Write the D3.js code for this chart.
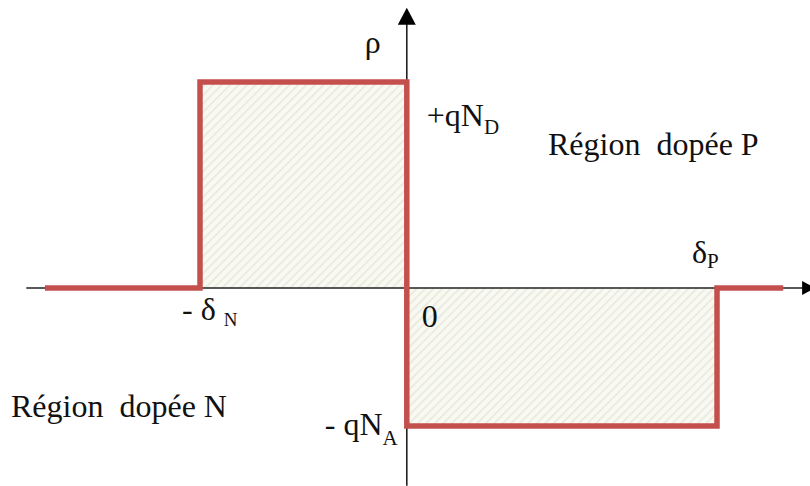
<!DOCTYPE html>
<html>
<head>
<meta charset="utf-8">
<script src="https://cdn.jsdelivr.net/npm/d3@7/dist/d3.min.js"></script>
<style>
  html, body { margin: 0; padding: 0; background: #fff; }
  #wrap { position: relative; width: 810px; height: 486px; }
  #wrap svg { position: absolute; left: 0; top: 0; }
  .lbl {
    position: absolute;
    font-family: "Liberation Serif", "Times New Roman", Tinos, serif;
    line-height: normal;
    color: #111;
    white-space: pre;
  }
  .lbl span { position: relative; }
</style>
</head>
<body>
<div id="wrap">
  <svg id="chart" width="810" height="486"></svg>
</div>
<script>
// Charge density ρ(x) across an abrupt P-N junction (depletion approximation).
// Positions in units of δN; density in units of qN_D.
const deltaN = 1.0;          // depletion width on the N side
const deltaP = 1.5;          // depletion width on the P side
const rhoDonor = 1.0;        // +qN_D
const rhoAcceptor = -0.67;   // -qN_A  (neutrality: N_D·δN = N_A·δP)

// Breakpoints of the step profile and the density after each one
const profileX = [-1.75, -deltaN, 0, deltaP, 1.82];
const profileRho = [0, rhoDonor, rhoAcceptor, 0, 0];

// Extent of the drawn axes
const xAxisExtent = [-1.84, 1.96];
const yAxisExtent = [-0.96, 1.36];

const svg = d3.select("#chart");
const wrap = d3.select("#wrap");

const x = d3.scaleLinear().domain([-deltaN, deltaP]).range([200, 717]);
const y = d3.scaleLinear().domain([0, rhoDonor]).range([288, 82]);

const profile = profileX.map((v, i) => ({ x: v, rho: profileRho[i] }));

// Diagonal hatch used for the space-charge regions
const defs = svg.append("defs");
const pat = defs.append("pattern")
  .attr("id", "hatch")
  .attr("patternUnits", "userSpaceOnUse")
  .attr("width", 6).attr("height", 6)
  .attr("patternTransform", "rotate(45)");
pat.append("rect").attr("width", 6).attr("height", 6).attr("fill", "#f9f9f3");
pat.append("line")
  .attr("x1", 0).attr("y1", 0).attr("x2", 0).attr("y2", 6)
  .attr("stroke", "#e7e7d8").attr("stroke-width", 3);

const area = d3.area()
  .x(d => x(d.x))
  .y0(y(0))
  .y1(d => y(d.rho))
  .curve(d3.curveStepAfter);

svg.append("path")
  .datum(profile)
  .attr("d", area)
  .attr("fill", "url(#hatch)");

// Axes
const axisColor = "#222";
svg.append("line")
  .attr("x1", x(xAxisExtent[0])).attr("x2", x(xAxisExtent[1]) - 8)
  .attr("y1", y(0)).attr("y2", y(0))
  .attr("stroke", axisColor).attr("stroke-width", 1.6);
svg.append("path")
  .attr("d", d3.line()([
    [x(xAxisExtent[1]) - 10, y(0) - 7],
    [x(xAxisExtent[1]) + 3, y(0)],
    [x(xAxisExtent[1]) - 10, y(0) + 7]
  ]) + "Z")
  .attr("fill", "#000");

svg.append("line")
  .attr("x1", x(0)).attr("x2", x(0))
  .attr("y1", y(yAxisExtent[0])).attr("y2", y(yAxisExtent[1]) + 15)
  .attr("stroke", axisColor).attr("stroke-width", 1.6);
svg.append("path")
  .attr("d", d3.line()([
    [x(0) - 9, y(yAxisExtent[1]) + 17],
    [x(0), y(yAxisExtent[1])],
    [x(0) + 9, y(yAxisExtent[1]) + 17]
  ]) + "Z")
  .attr("fill", "#000");

// Density profile
const line = d3.line()
  .x(d => x(d.x))
  .y(d => y(d.rho))
  .curve(d3.curveStepAfter);

svg.append("path")
  .datum(profile)
  .attr("d", line)
  .attr("fill", "none")
  .attr("stroke", "#c4504e")
  .attr("stroke-width", 5.5)
  .attr("stroke-linejoin", "miter")
  .attr("stroke-linecap", "butt");

// Labels, placed by their baseline (ascent of the serif face ≈ 0.891 em)
const fs = 32, sub = 21;

function label(px, py, parts) {
  const d = wrap.append("div")
    .attr("class", "lbl")
    .style("left", px + "px")
    .style("top", (py - 0.891 * fs) + "px")
    .style("font-size", fs + "px");
  parts.forEach(p => {
    d.append("span")
      .style("font-size", (p.size || fs) + "px")
      .style("top", (p.dy || 0) + "px")
      .text(p.t);
  });
}

label(x(0) - 42, y(yAxisExtent[1]) + 45, [{ t: "ρ" }]);
label(x(0) + 20, y(rhoDonor) + 44, [{ t: "+qN" }, { t: "D", size: sub, dy: 8 }]);
label(548, 155, [{ t: "Région  dopée P" }]);
label(x(deltaP) - 25, y(0) - 25, [{ t: "δ" }, { t: "P", size: sub, dy: 5 }]);
label(x(-deltaN) - 18, y(0) + 32, [{ t: "- δ " }, { t: "N", size: 19, dy: 6 }]);
label(x(0) + 15, y(0) + 39, [{ t: "0" }]);
label(11, 417, [{ t: "Région  dopée N" }]);
label(x(0) - 82, y(rhoAcceptor) + 8, [{ t: "- qN" }, { t: "A", size: sub, dy: 10 }]);
</script>
</body>
</html>
